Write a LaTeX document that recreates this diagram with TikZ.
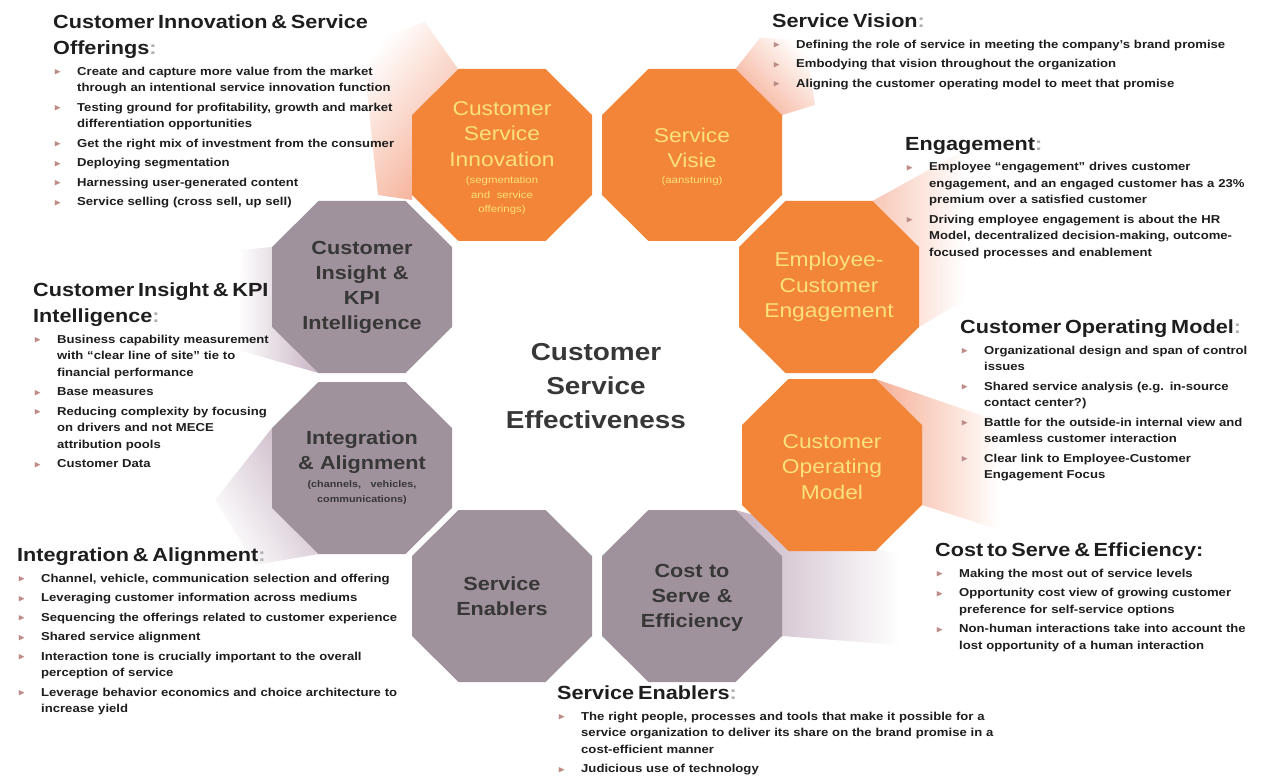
\documentclass[tikz,border=0pt]{standalone}
\usepackage{fontspec}
\usepackage{amssymb}
\usepackage{graphicx}
\setmainfont{Liberation Sans}[FakeStretch=1.14]
\definecolor{orng}{RGB}{242,133,55}
\definecolor{mauve}{RGB}{160,146,156}
\definecolor{ylw}{RGB}{250,226,122}
\definecolor{dkg}{RGB}{55,55,55}
\definecolor{txt}{RGB}{30,30,30}
\definecolor{bulc}{RGB}{190,140,135}
\definecolor{colc}{RGB}{175,175,175}
\definecolor{glowO}{RGB}{245,175,150}
\definecolor{glowM}{RGB}{200,180,196}
\newcommand\hd[1]{\noindent{\fontsize{19}{26}\selectfont #1\par}\vspace{4pt}}
\newcommand\cln{\textcolor{colc}{:}}
\newcommand\bmark{\textcolor{bulc}{\raisebox{0.5pt}{\scalebox{0.8}{$\blacktriangleright$}}}}
\newcommand\bl[1]{\noindent\hangindent=24pt\hangafter=1\makebox[24pt][l]{\hspace{1pt}\bmark}#1\par\vspace{3pt}}
\begin{document}
\begin{tikzpicture}[x=1pt,y=-1pt,
  txtblock/.style={anchor=north west, inner sep=0pt, align=left, text width=#1, font=\fontsize{11.5}{16.5}\selectfont\bfseries, text=txt},
  olab/.style={inner sep=0pt, align=center, text width=175pt, text=ylw, font=\fontsize{20}{25.5}\selectfont},
  glab/.style={inner sep=0pt, align=center, text width=175pt, text=dkg, font=\fontsize{19}{25}\selectfont\bfseries},
  octa/.pic={\path[pic actions] (-43.5,-86) -- (43.5,-86) -- (90,-40) -- (90,40) -- (43.5,86) -- (-43.5,86) -- (-90,40) -- (-90,-40) -- cycle;},
  glow/.style={shading=axis, top color=white, bottom color=#1}
]
\useasboundingbox (0,0) rectangle (1267,778);
\fill[white] (0,0) rectangle (1267,778);

% glows
\shade[glow=glowO, shading angle=50] (458,69) -- (412,115) -- (412,200) -- (378,195) -- (362,45) -- (425,22) -- cycle;
\shade[glow=glowO, shading angle=-45] (735.5,69) -- (782,115) -- (815,105) -- (805,40) -- (760,38) -- cycle;
\shade[glow=glowO!70, shading angle=-90] (872.5,201) -- (919,247) -- (919,327) -- (965,300) -- (965,150) -- cycle;
\shade[glow=glowO, shading angle=-90] (875.5,379) -- (922,425) -- (922,505) -- (1000,530) -- (995,420) -- cycle;
\shade[glow=glowM, shading angle=-90] (735.5,510) -- (782,556) -- (782,636) -- (900,645) -- (900,555) -- cycle;
\shade[glow=glowM, shading angle=90] (272,247) -- (272,327) -- (318.5,373) -- (238,350) -- (242,250) -- cycle;
\shade[glow=glowM, shading angle=120] (272,428) -- (272,508) -- (318.5,554) -- (255,565) -- (215,500) -- cycle;

% octagons
\pic[fill=orng] at (502,155) {octa};
\pic[fill=orng] at (692,155) {octa};
\pic[fill=orng] at (829,287) {octa};
\pic[fill=orng] at (832,465) {octa};
\pic[fill=mauve] at (692,596) {octa};
\pic[fill=mauve] at (502,596) {octa};
\pic[fill=mauve] at (362,468) {octa};
\pic[fill=mauve] at (362,287) {octa};

% octagon labels
\node[olab] (csi) at (502,158) {Customer\\Service\\Innovation\par\vspace{3pt}{\fontsize{10}{14.5}\selectfont (segmentation\\and service\\offerings)\par}};
\node[olab] (sv) at (692,157) {Service\\Visie\par\vspace{2pt}{\fontsize{10}{14}\selectfont (aansturing)\par}};
\node[olab] (ece) at (829,287) {Employee-\\Customer\\Engagement};
\node[olab] (com) at (832,467) {Customer\\Operating\\Model};
\node[glab] (cse) at (692,598) {Cost to\\Serve \&\\Efficiency};
\node[glab] (se) at (502,596) {Service\\Enablers};
\node[glab] (ia) at (362,468) {Integration\\\& Alignment\par\vspace{3pt}{\fontsize{9.5}{15}\selectfont (channels,\quad vehicles,\\communications)\par}};
\node[glab] (cik) at (362,287) {Customer\\Insight \&\\KPI\\Intelligence};

% center
\node[font=\fontsize{24.5}{34}\selectfont\bfseries, text=dkg, align=center, text width=300pt, inner sep=0pt] (center) at (596,386) {Customer\\Service\\Effectiveness};

% text blocks
\node[txtblock=360pt] (tl) at (53,15) {\hd{Customer Innovation \& Service\newline Offerings\cln}
\bl{Create and capture more value from the market\newline through an intentional service innovation function}
\bl{Testing ground for profitability, growth and market\newline differentiation opportunities}
\bl{Get the right mix of investment from the consumer}
\bl{Deploying segmentation}
\bl{Harnessing user-generated content}
\bl{Service selling (cross sell, up sell)}};

\node[txtblock=490pt] (vis) at (772,14) {\hd{Service Vision\cln}
\bl{Defining the role of service in meeting the company's brand promise}
\bl{Embodying that vision throughout the organization}
\bl{Aligning the customer operating model to meet that promise}};

\node[txtblock=355pt] (eng) at (905,137) {\hd{Engagement\cln}
\bl{Employee ``engagement'' drives customer\newline engagement, and an engaged customer has a 23\%\newline premium over a satisfied customer}
\bl{Driving employee engagement is about the HR\newline Model, decentralized decision-making, outcome-\newline focused processes and enablement}};

\node[txtblock=305pt] (opm) at (960,320) {\hd{Customer Operating Model\cln}
\bl{Organizational design and span of control\newline issues}
\bl{Shared service analysis (e.g. in-source\newline contact center?)}
\bl{Battle for the outside-in internal view and\newline seamless customer interaction}
\bl{Clear link to Employee-Customer\newline Engagement Focus}};

\node[txtblock=330pt] (cts) at (935,543) {\hd{Cost to Serve \& Efficiency:}
\bl{Making the most out of service levels}
\bl{Opportunity cost view of growing customer\newline preference for self-service options}
\bl{Non-human interactions take into account the\newline lost opportunity of a human interaction}};

\node[txtblock=300pt] (kpi) at (33,283) {\hd{Customer Insight \& KPI\newline Intelligence\cln}
\bl{Business capability measurement\newline with ``clear line of site'' tie to\newline financial performance}
\bl{Base measures}
\bl{Reducing complexity by focusing\newline on drivers and not MECE\newline attribution pools}
\bl{Customer Data}};

\node[txtblock=420pt] (int) at (17,548) {\hd{Integration \& Alignment\cln}
\bl{Channel, vehicle, communication selection and offering}
\bl{Leveraging customer information across mediums}
\bl{Sequencing the offerings related to customer experience}
\bl{Shared service alignment}
\bl{Interaction tone is crucially important to the overall\newline perception of service}
\bl{Leverage behavior economics and choice architecture to\newline increase yield}};

\node[txtblock=480pt] (ena) at (557,686) {\hd{Service Enablers\cln}
\bl{The right people, processes and tools that make it possible for a\newline service organization to deliver its share on the brand promise in a\newline cost-efficient manner}
\bl{Judicious use of technology}};
\end{tikzpicture}
\end{document}
